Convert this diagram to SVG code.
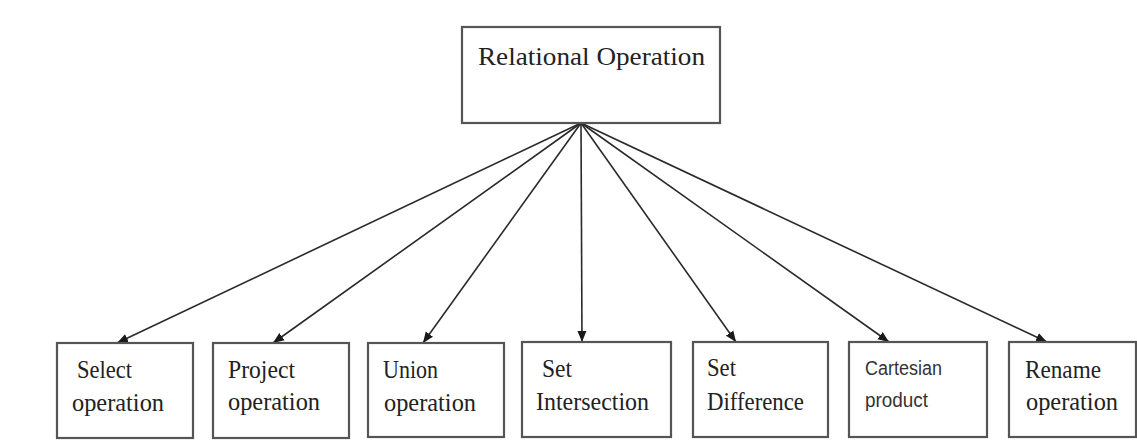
<svg xmlns="http://www.w3.org/2000/svg" width="1137" height="443" viewBox="0 0 1137 443">
<style>
.box{fill:#fff;stroke:#555;stroke-width:2.2}
.lbl{font-family:"Liberation Serif",serif;font-size:25px;fill:#222}
.sans{font-family:"Liberation Sans",sans-serif;font-size:20px;fill:#333}
.edge{stroke:#2a2a2a;stroke-width:1.6;fill:none;marker-end:url(#arr)}
</style>
<defs>
<marker id="arr" markerUnits="userSpaceOnUse" markerWidth="12" markerHeight="10" refX="11" refY="5" orient="auto">
<path d="M0,0.5 L11,5 L0,9.5 z" fill="#1a1a1a"/>
</marker>
</defs>
<rect width="1137" height="443" fill="#fff"/>
<g id="connectors">
<line class="edge" x1="581" y1="123" x2="117" y2="343"/>
<line class="edge" x1="581" y1="123" x2="273" y2="343"/>
<line class="edge" x1="581" y1="123" x2="423" y2="343"/>
<line class="edge" x1="581" y1="123" x2="582" y2="342"/>
<line class="edge" x1="581" y1="123" x2="736" y2="342"/>
<line class="edge" x1="581" y1="123" x2="889" y2="342"/>
<line class="edge" x1="581" y1="123" x2="1047" y2="342"/>
</g>
<g id="relational-operation">
<rect class="box" x="462" y="27" width="258" height="96"/>
<text class="lbl" x="478" y="65" font-size="33" textLength="227" lengthAdjust="spacingAndGlyphs">Relational Operation</text>
</g>
<g id="select">
<rect class="box" x="57" y="343" width="136" height="95"/>
<text class="lbl" x="77" y="378" textLength="55" lengthAdjust="spacingAndGlyphs">Select</text>
<text class="lbl" x="72" y="411" textLength="92" lengthAdjust="spacingAndGlyphs">operation</text>
</g>
<g id="project">
<rect class="box" x="213" y="343" width="136" height="95"/>
<text class="lbl" x="228" y="378" textLength="67" lengthAdjust="spacingAndGlyphs">Project</text>
<text class="lbl" x="228" y="410" textLength="92" lengthAdjust="spacingAndGlyphs">operation</text>
</g>
<g id="union">
<rect class="box" x="368" y="343" width="136" height="94"/>
<text class="lbl" x="383" y="378" textLength="55" lengthAdjust="spacingAndGlyphs">Union</text>
<text class="lbl" x="384" y="411" textLength="92" lengthAdjust="spacingAndGlyphs">operation</text>
</g>
<g id="set-intersection">
<rect class="box" x="522" y="342" width="149" height="95"/>
<text class="lbl" x="542" y="377" textLength="30" lengthAdjust="spacingAndGlyphs">Set</text>
<text class="lbl" x="536" y="410" textLength="113" lengthAdjust="spacingAndGlyphs">Intersection</text>
</g>
<g id="set-difference">
<rect class="box" x="693" y="342" width="135" height="95"/>
<text class="lbl" x="707" y="376" textLength="29" lengthAdjust="spacingAndGlyphs">Set</text>
<text class="lbl" x="707" y="410" textLength="97" lengthAdjust="spacingAndGlyphs">Difference</text>
</g>
<g id="cartesian-product">
<rect class="box" x="849" y="342" width="138" height="95"/>
<text class="sans" x="865" y="375" textLength="77" lengthAdjust="spacingAndGlyphs">Cartesian</text>
<text class="sans" x="865" y="407" textLength="63" lengthAdjust="spacingAndGlyphs">product</text>
</g>
<g id="rename">
<rect class="box" x="1009" y="342" width="127" height="95"/>
<text class="lbl" x="1025" y="378" textLength="76" lengthAdjust="spacingAndGlyphs">Rename</text>
<text class="lbl" x="1026" y="410" textLength="92" lengthAdjust="spacingAndGlyphs">operation</text>
</g>
</svg>
